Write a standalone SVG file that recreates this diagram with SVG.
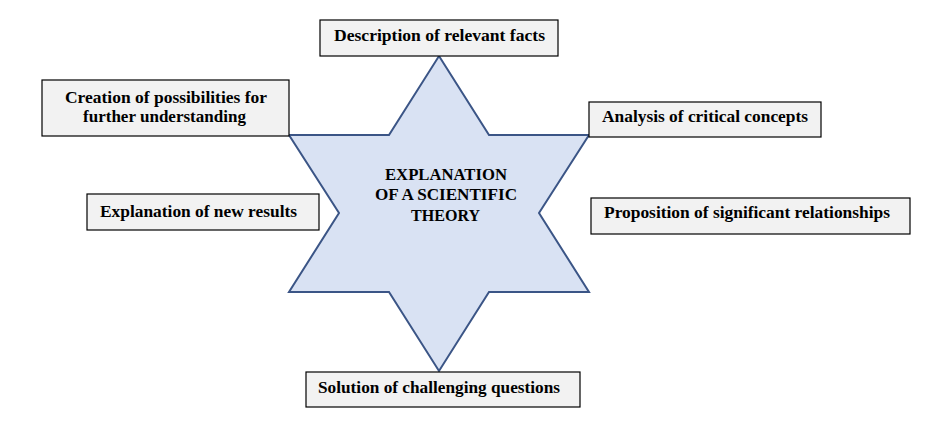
<svg xmlns="http://www.w3.org/2000/svg" width="948" height="422" viewBox="0 0 948 422">
<style>
.box{fill:#f2f2f2;stroke:#000;stroke-width:1.2}
.t{font-family:"Liberation Serif","Times New Roman",serif;font-weight:bold;font-size:16px;fill:#000}
.star{fill:#d9e2f3;stroke:#3b5586;stroke-width:2;stroke-linejoin:miter}
</style>
<rect width="948" height="422" fill="#fff"/>
<g id="center">
<polygon class="star" points="439,56 489,135 589,135 539,213 589,292 489,292 439,371 389,292 289,292 339,213 289,135 389,135"/>
<text class="t" x="385" y="180" textLength="122" lengthAdjust="spacingAndGlyphs">EXPLANATION</text>
<text class="t" x="375" y="200" textLength="142" lengthAdjust="spacingAndGlyphs">OF A SCIENTIFIC</text>
<text class="t" x="411" y="221" textLength="69" lengthAdjust="spacingAndGlyphs">THEORY</text>
</g>
<g id="description">
<rect class="box" x="320" y="20" width="238" height="36"/>
<text class="t" x="334" y="41" textLength="211" lengthAdjust="spacingAndGlyphs">Description of relevant facts</text>
</g>
<g id="creation">
<rect class="box" x="42" y="80" width="247" height="56"/>
<text class="t" x="65" y="103" textLength="202" lengthAdjust="spacingAndGlyphs">Creation of possibilities for</text>
<text class="t" x="83" y="122" textLength="163" lengthAdjust="spacingAndGlyphs">further understanding</text>
</g>
<g id="explanation">
<rect class="box" x="87" y="194" width="232" height="36"/>
<text class="t" x="100" y="217" textLength="197" lengthAdjust="spacingAndGlyphs">Explanation of new results</text>
</g>
<g id="analysis">
<rect class="box" x="589" y="102" width="232" height="35"/>
<text class="t" x="602" y="122" textLength="206" lengthAdjust="spacingAndGlyphs">Analysis of critical concepts</text>
</g>
<g id="proposition">
<rect class="box" x="591" y="198" width="319" height="36"/>
<text class="t" x="604" y="218" textLength="286" lengthAdjust="spacingAndGlyphs">Proposition of significant relationships</text>
</g>
<g id="solution">
<rect class="box" x="306" y="372" width="274" height="35"/>
<text class="t" x="318" y="393" textLength="242" lengthAdjust="spacingAndGlyphs">Solution of challenging questions</text>
</g>
<g id="connectors"/>
</svg>
